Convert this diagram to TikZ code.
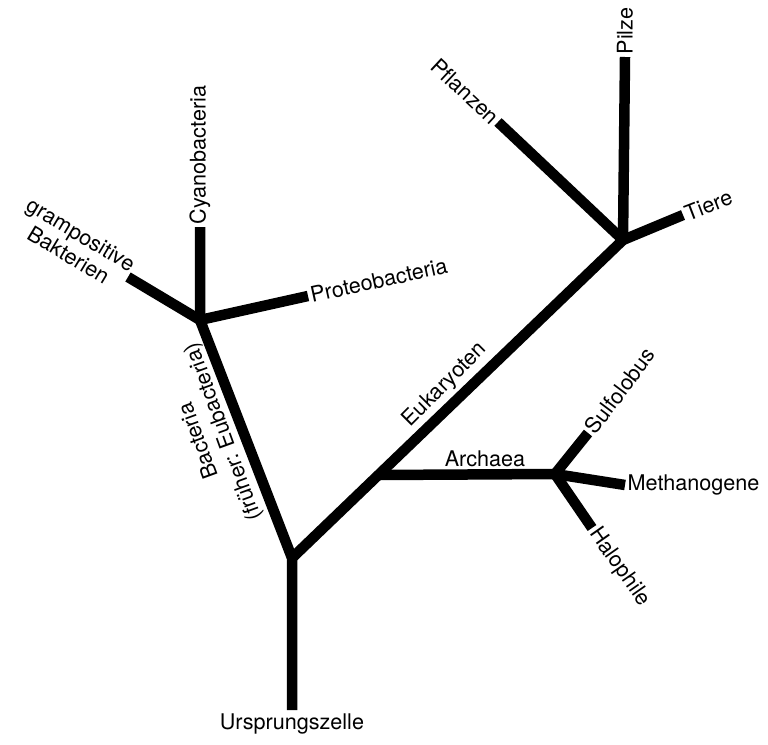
\documentclass[tikz,border=0pt]{standalone}
\usepackage{fontspec}
\setmainfont{TeX Gyre Heros}
\begin{document}
\begin{tikzpicture}[x=1pt,y=1pt,
  branch/.style={line width=10.5pt, line cap=butt, line join=miter, black},
  lbl/.style={font=\fontsize{21.6}{24}\selectfont, inner sep=2.5pt, text=black},
  jdot/.style={fill=black, circle, minimum size=10.5pt, inner sep=0pt}]
\useasboundingbox (0,0) rectangle (768,-744);
% junctions and tips
\coordinate (R) at (292,-710);
\coordinate (J0) at (292,-558);
\coordinate (JB) at (200,-320);
\coordinate (cyan) at (200,-227);
\coordinate (gram) at (128,-277);
\coordinate (proteo) at (308,-296);
\coordinate (JE) at (623,-240);
\coordinate (pilze) at (625,-57);
\coordinate (pflanzen) at (498,-122);
\coordinate (tiere) at (683,-215);
\coordinate (JA) at (378,-475);
\coordinate (JR) at (555,-474);
\coordinate (sulfo) at (588,-433);
\coordinate (metha) at (625,-485);
\coordinate (halo) at (592,-528);
% branches
\draw[branch] (R) -- (J0) -- (JB) -- (cyan);
\draw[branch] (JB) -- (gram);
\draw[branch] (JB) -- (proteo);
\draw[branch] (J0) -- (JE) -- (pilze);
\draw[branch] (JE) -- (pflanzen);
\draw[branch] (JE) -- (tiere);
\draw[branch] (JA) -- (JR) -- (metha);
\draw[branch] (JR) -- (sulfo);
\draw[branch] (JR) -- (halo);
\node[jdot] (dJB) at (JB) {};
\node[jdot] (dJE) at (JE) {};
\node[jdot] (dJR) at (JR) {};
\node[jdot] (dJ0) at (J0) {};
% labels
\node[lbl, anchor=north, inner sep=3.5pt] (tUrs) at (R) {Ursprungszelle};
\node[lbl, anchor=west, rotate=90] (tCyan) at (cyan) {Cyanobacteria};
\node[lbl, anchor=east, rotate=-31, align=center, inner sep=1pt] (tGram) at (gram) {grampositive\\Bakterien};
\node[lbl, anchor=west, rotate=12.5] (tProteo) at (proteo) {Proteobacteria};
\node[lbl, anchor=west, rotate=90] (tPilze) at (pilze) {Pilze};
\node[lbl, anchor=east, rotate=-43] (tPfl) at (pflanzen) {Pflanzen};
\node[lbl, anchor=west, rotate=21] (tTiere) at (tiere) {Tiere};
\node[lbl, anchor=west, rotate=53] (tSulfo) at (sulfo) {Sulfolobus};
\node[lbl, anchor=west] (tMetha) at (metha) {Methanogene};
\node[lbl, anchor=west, rotate=-55] (tHalo) at (halo) {Halophile};
\node[lbl] (tArch) at (485,-459) {Archaea};
\node[lbl, rotate=45] (tEuk) at (445,-385) {Eukaryoten};
\node[lbl, rotate=110, align=center, font=\fontsize{21.6}{26}\selectfont] (tBact) at (212,-436) {Bacteria\\(früher: Eubacteria)};
\end{tikzpicture}
\end{document}
